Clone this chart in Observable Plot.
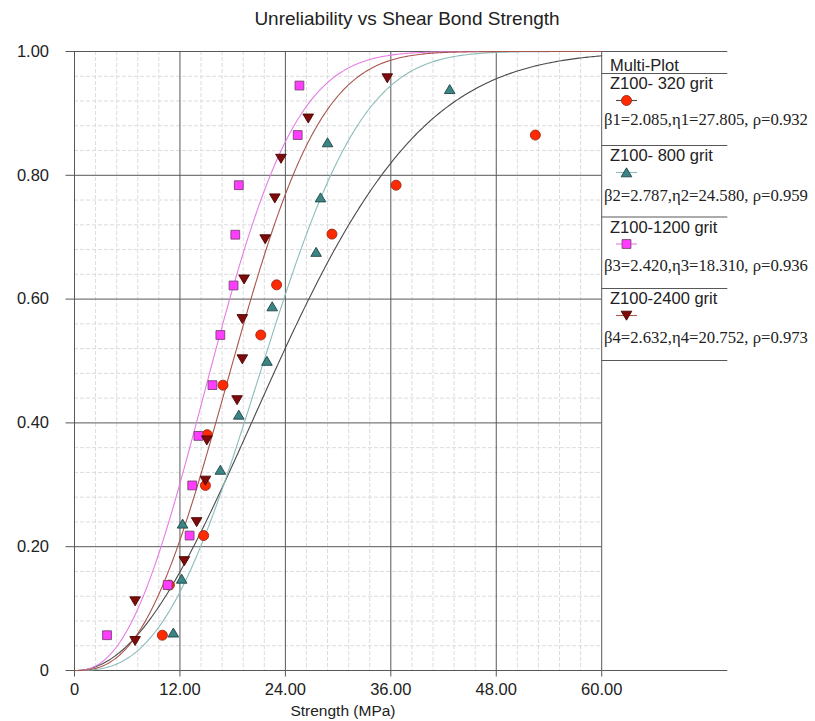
<!DOCTYPE html>
<html><head><meta charset="utf-8">
<script src="https://cdn.jsdelivr.net/npm/d3@7"></script>
<script src="https://cdn.jsdelivr.net/npm/@observablehq/plot@0.6"></script>
<style>body{margin:0;background:#fff}</style>
</head><body><div id="chart"></div>
<script>
const chartTitle = "Unreliability vs Shear Bond Strength";
const xLabel = "Strength (MPa)";
const legendTitle = "Multi-Plot";
const xTicks = [0, 12, 24, 36, 48, 60];
const yTicks = [0, 0.2, 0.4, 0.6, 0.8, 1.0];
const seriesNames = ["Z100- 320 grit", "Z100- 800 grit", "Z100-1200 grit", "Z100-2400 grit"];
const betas = [2.085, 2.787, 2.420, 2.632];
const etas = [27.805, 24.580, 18.310, 20.752];
const rhos = [0.932, 0.959, 0.936, 0.973];

const grit320X = [10.0, 10.8, 14.7, 14.9, 15.1, 16.9, 21.2, 23.0, 29.3, 36.6, 52.45];
const grit320Y = [0.057, 0.138, 0.218, 0.299, 0.381, 0.461, 0.542, 0.623, 0.705, 0.784, 0.865];
const grit800X = [11.25, 12.2, 12.3, 16.6, 18.7, 21.9, 22.5, 27.5, 28.0, 28.8, 42.7];
const grit800Y = [0.061, 0.148, 0.237, 0.324, 0.413, 0.500, 0.588, 0.676, 0.764, 0.853, 0.939];
const grit1200X = [3.7, 10.6, 13.1, 13.4, 14.1, 15.7, 16.6, 18.1, 18.3, 18.7, 25.4, 25.6];
const grit1200Y = [0.057, 0.138, 0.218, 0.299, 0.379, 0.461, 0.542, 0.622, 0.704, 0.784, 0.865, 0.945];
const grit2400X = [6.9, 6.9, 12.5, 13.9, 14.9, 15.06, 18.5, 19.1, 19.1, 19.3, 21.7, 22.8, 23.5, 26.6, 35.6];
const grit2400Y = [0.048, 0.112, 0.177, 0.240, 0.307, 0.372, 0.437, 0.503, 0.568, 0.632, 0.697, 0.763, 0.827, 0.892, 0.957];

// styles
const lineColors = ["#4a4a4a", "#8bbcba", "#e57de6", "#a8554c"];
const dotFills = ["#ff2a00", "#3b8585", "#ff3cff", "#7e0a0a"];
const dotStrokes = ["#9a2a1a", "#1f4646", "#7a4272", "#4a0606"];

const circleSym = {draw(c) { c.moveTo(5, 0); c.arc(0, 0, 5, 0, 2 * Math.PI); c.closePath(); }};
const triUp = {draw(c) { c.moveTo(0, -4.7); c.lineTo(5.3, 4.3); c.lineTo(-5.3, 4.3); c.closePath(); }};
const triDown = {draw(c) { c.moveTo(0, 4.7); c.lineTo(5.3, -4.3); c.lineTo(-5.3, -4.3); c.closePath(); }};
const squareSym = {draw(c) { c.rect(-4.4, -4.4, 8.8, 8.8); }};
const symbols = [circleSym, triUp, squareSym, triDown];

const seriesX = [grit320X, grit800X, grit1200X, grit2400X];
const seriesY = [grit320Y, grit800Y, grit1200Y, grit2400Y];
const points = seriesX.map((xs, i) => xs.map((x, j) => ({x, y: seriesY[i][j]})));

// Weibull unreliability curves from the fitted parameters shown in the legend
const curveRows = [];
seriesNames.forEach((name, i) => {
  for (let t = 0; t <= 60.0001; t += 0.2) {
    curveRows.push({series: name, x: t, y: 1 - Math.exp(-Math.pow(t / etas[i], betas[i]))});
  }
});

const minorX = d3.range(0, 61).map(i => i * 2.4).filter(v => v <= 60.001 && Math.abs(v / 12 - Math.round(v / 12)) > 1e-6);
const minorY = d3.range(0, 26).map(i => i * 0.04).filter(v => v <= 1.0001 && Math.abs(v / 0.2 - Math.round(v / 0.2)) > 1e-6);

const fmtX = d => d === 0 ? "0" : d.toFixed(2);
const fmtY = d => d === 0 ? "0" : d.toFixed(2);

const W = 815, H = 721;
const mL = 74, mR = 213.8, mT = 51, mB = 51;

const svg = Plot.plot({
  width: W, height: H,
  marginLeft: mL, marginRight: mR, marginTop: mT, marginBottom: mB,
  style: {fontFamily: "'Liberation Sans', Arial, sans-serif", fontSize: "16.5px", background: "#fff", color: "#222", overflow: "visible"},
  x: {domain: [0, 60], label: null},
  y: {domain: [0, 1], label: null},
  color: {domain: seriesNames, range: lineColors},
  marks: [
    Plot.ruleX(minorX, {stroke: "#dcdcdc", strokeDasharray: "4,2"}),
    Plot.ruleY(minorY, {stroke: "#dcdcdc", strokeDasharray: "4,2"}),
    Plot.ruleX(xTicks, {stroke: "#585858"}),
    Plot.ruleY(yTicks, {stroke: "#585858"}),
    Plot.line(curveRows, {x: "x", y: "y", z: "series", stroke: "series", strokeWidth: 1.1}),
    ...points.map((pts, i) => Plot.dot(pts, {x: "x", y: "y", symbol: symbols[i], fill: dotFills[i], stroke: dotStrokes[i], strokeWidth: 0.9})),
    Plot.axisX(xTicks, {tickSize: 6.5, tickPadding: 6, tickFormat: fmtX, stroke: "#585858", fill: "#222", label: null}),
    Plot.axisY(yTicks, {tickSize: 8.5, tickPadding: 17, tickFormat: fmtY, stroke: "#585858", fill: "#222", label: null})
  ]
});

const s = d3.select(svg);
const g = s.append("g").attr("text-anchor", "start");
const xR = 601.7, xEnd = 727.3;
// frame extensions for the legend panel
[51.5, 73.5, 145.5, 217, 288.5, 360.5, 670.5].forEach(y => {
  g.append("line").attr("x1", xR).attr("x2", xEnd).attr("y1", y).attr("y2", y)
    .attr("stroke", "#585858").attr("stroke-width", 1);
});
// title
g.append("text").attr("x", 407).attr("y", 25).attr("text-anchor", "middle")
  .attr("font-size", "19px").attr("fill", "#222").text(chartTitle);
// x axis label
g.append("text").attr("x", 343).attr("y", 716).attr("text-anchor", "middle")
  .attr("font-size", "15.5px").attr("fill", "#222").text(xLabel);
// legend
g.append("text").attr("x", 610).attr("y", 70.5).attr("text-anchor", "start").attr("font-size", "16.5px").attr("fill", "#222").text(legendTitle);
const blockTop = [73.5, 145.5, 217, 288.5];
const betaBase = [124.5, 201, 271, 342.5];
seriesNames.forEach((name, i) => {
  const L = blockTop[i];
  g.append("text").attr("x", 610).attr("y", L + 15.5).attr("text-anchor", "start").attr("font-size", "16.5px").attr("fill", "#222").text(name);
  const my = L + 27;
  g.append("line").attr("x1", 616).attr("x2", 637).attr("y1", my).attr("y2", my)
    .attr("stroke", lineColors[i]).attr("stroke-width", 1.1);
  g.append("path").attr("transform", `translate(626.5,${my})`)
    .attr("d", d3.symbol(symbols[i])())
    .attr("fill", dotFills[i]).attr("stroke", dotStrokes[i]).attr("stroke-width", 0.9);
  g.append("text").attr("x", 604).attr("y", betaBase[i]).attr("text-anchor", "start")
    .attr("font-family", "'Liberation Serif', 'Times New Roman', serif").attr("font-size", "16.7px").attr("fill", "#222")
    .text(`β${i + 1}=${betas[i].toFixed(3)},η${i + 1}=${etas[i].toFixed(3)}, ρ=${rhos[i].toFixed(3)}`);
});

document.getElementById("chart").appendChild(svg);
</script>
</body></html>
